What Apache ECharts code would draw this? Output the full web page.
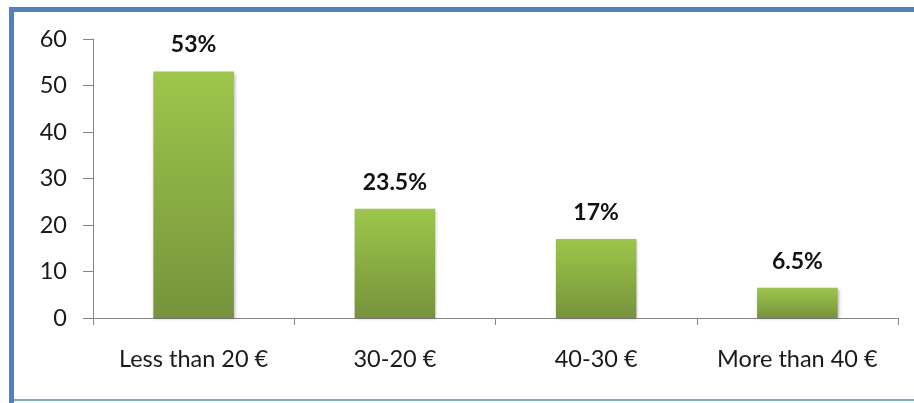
<!DOCTYPE html>
<html>
<head>
<meta charset="utf-8">
<script src="https://cdn.jsdelivr.net/npm/echarts@6/dist/echarts.min.js"></script>
<style>
  html, body { margin: 0; padding: 0; background: #fff; }
  #chart { width: 914px; height: 403px; }
</style>
</head>
<body>
<div id="chart"></div>
<script>
// Price bands and the share of answers in each
const categories = ['Less than 20 €', '30-20 €', '40-30 €', 'More than 40 €'];
const shares = [53, 23.5, 17, 6.5];
const yTicks = { min: 0, max: 60, interval: 10 };

const chart = echarts.init(document.getElementById('chart'), null, { renderer: 'canvas' });
const FONT = 'Lato, "Open Sans", sans-serif';

chart.setOption({
  animation: false,
  backgroundColor: '#ffffff',
  grid: { left: 93, right: 16, top: 39, bottom: 85 },
  xAxis: {
    type: 'category',
    data: categories,
    axisLine: { lineStyle: { color: '#868686', width: 1 } },
    axisTick: { show: true, length: 7, alignWithLabel: false, lineStyle: { color: '#868686' } },
    axisLabel: { interval: 0, hideOverlap: false, color: '#1a1a1a', fontFamily: FONT, fontSize: 23.5, margin: 29 }
  },
  yAxis: {
    type: 'value',
    min: yTicks.min, max: yTicks.max, interval: yTicks.interval,
    axisLine: { show: true, lineStyle: { color: '#868686', width: 1 } },
    axisTick: { show: true, length: 10, inside: false, lineStyle: { color: '#868686' } },
    splitLine: { show: false },
    axisLabel: { color: '#1a1a1a', fontFamily: FONT, fontSize: 23.5, margin: 26 }
  },
  series: [{
    type: 'bar',
    data: shares,
    barWidth: '40%',
    itemStyle: {
      color: new echarts.graphic.LinearGradient(0, 0, 0, 1, [
        { offset: 0, color: '#9dc64b' },
        { offset: 1, color: '#76933c' }
      ]),
      shadowColor: 'rgba(0,0,0,0.3)',
      shadowBlur: 3,
      shadowOffsetX: 1,
      shadowOffsetY: 1
    },
    label: {
      show: true,
      position: 'top',
      distance: 15,
      formatter: p => p.value + '%',
      color: '#111',
      fontFamily: FONT,
      fontWeight: 'bold',
      fontSize: 23
    }
  }],
  graphic: [
    { type: 'rect', shape: { x: 9, y: 7, width: 905, height: 5 }, style: { fill: '#4f81bd' }, silent: true },
    { type: 'rect', shape: { x: 9, y: 7, width: 5, height: 396 }, style: { fill: '#4f81bd' }, silent: true },
    { type: 'rect', shape: { x: 14, y: 399, width: 900, height: 2 }, style: { fill: '#7ba7d9' }, silent: true }
  ]
});
</script>
</body>
</html>
